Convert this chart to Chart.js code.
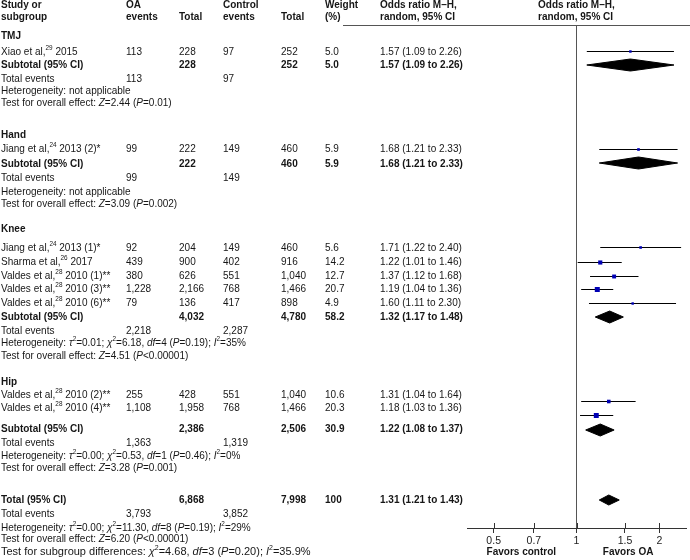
<!DOCTYPE html>
<html>
<head>
<meta charset="utf-8">
<script src="https://cdn.jsdelivr.net/npm/chart.js@4/dist/chart.umd.min.js"></script>
<style>
  html, body { margin: 0; padding: 0; background: #fff; }
  #wrap { width: 690px; height: 560px; }
</style>
</head>
<body>
<div id="wrap"><canvas id="forest" width="690" height="560"></canvas></div>
<script>
// --- data ---
const groupNames = ['TMJ', 'Hand', 'Knee', 'Hip'];
// {..} = superscript, [..] = italic
const studyLabels = [
  'Xiao et al,{29} 2015',
  'Jiang et al,{24} 2013 (2)*',
  'Jiang et al,{24} 2013 (1)*',
  'Sharma et al,{26} 2017',
  'Valdes et al,{28} 2010 (1)**',
  'Valdes et al,{28} 2010 (3)**',
  'Valdes et al,{28} 2010 (6)**',
  'Valdes et al,{28} 2010 (2)**',
  'Valdes et al,{28} 2010 (4)**'
];
const studyGroup = [0, 1, 2, 2, 2, 2, 2, 3, 3];
const oaEvents = [113, 99, 92, 439, 380, 1228, 79, 255, 1108];
const oaTotal = [228, 222, 204, 900, 626, 2166, 136, 428, 1958];
const ctrlEvents = [97, 149, 149, 402, 551, 768, 417, 551, 768];
const ctrlTotal = [252, 460, 460, 916, 1040, 1466, 898, 1040, 1466];
const studyWeight = [5.0, 5.9, 5.6, 14.2, 12.7, 20.7, 4.9, 10.6, 20.3];
const studyOR = [1.57, 1.68, 1.71, 1.22, 1.37, 1.19, 1.60, 1.31, 1.18];
const studyLow = [1.09, 1.21, 1.22, 1.01, 1.12, 1.04, 1.11, 1.04, 1.03];
const studyHigh = [2.26, 2.33, 2.40, 1.46, 1.68, 1.36, 2.30, 1.64, 1.36];

const subOaTotal = [228, 222, 4032, 2386];
const subCtrlTotal = [252, 460, 4780, 2506];
const subWeight = [5.0, 5.9, 58.2, 30.9];
const subOR = [1.57, 1.68, 1.32, 1.22];
const subLow = [1.09, 1.21, 1.17, 1.08];
const subHigh = [2.26, 2.33, 1.48, 1.37];
const subOaEvents = [113, 99, 2218, 1363];
const subCtrlEvents = [97, 149, 2287, 1319];
const subHet = [
  'Heterogeneity: not applicable',
  'Heterogeneity: not applicable',
  'Heterogeneity: [τ]{2}=0.01; [χ]{2}=6.18, [df]=4 ([P]=0.19); [I]{2}=35%',
  'Heterogeneity: [τ]{2}=0.00; [χ]{2}=0.53, [df]=1 ([P]=0.46); [I]{2}=0%'
];
const subTest = [
  'Test for overall effect: [Z]=2.44 ([P]=0.01)',
  'Test for overall effect: [Z]=3.09 ([P]=0.002)',
  'Test for overall effect: [Z]=4.51 ([P]<0.00001)',
  'Test for overall effect: [Z]=3.28 ([P]=0.001)'
];

const totalOaTotal = 6868, totalCtrlTotal = 7998, totalWeight = '100';
const totalOR = 1.31, totalLow = 1.21, totalHigh = 1.43;
const totalOaEvents = 3793, totalCtrlEvents = 3852;
const totalHet = 'Heterogeneity: [τ]{2}=0.00; [χ]{2}=11.30, [df]=8 ([P]=0.19); [I]{2}=29%';
const totalTest = 'Test for overall effect: [Z]=6.20 ([P]<0.00001)';
const subgroupDiff = 'Test for subgroup differences: [χ]{2}=4.68, [df]=3 ([P]=0.20); [I]{2}=35.9%';

const tickValues = [0.5, 0.7, 1, 1.5, 2];

// --- layout (row positions on the vertical row scale) ---
const groupY = [36, 135, 229, 382];
const studyY = [52, 149, 248, 262, 276, 289, 303, 395, 408];
const studyMarkY = [51.5, 149.5, 247.5, 262.5, 276.5, 289.5, 303.5, 401.5, 415.5];
const subY = [65, 164, 317, 429];
const subMarkY = [65, 163, 317, 430];
const subEventsY = [79, 178, 331, 443];
const hetY = [91, 192, 343, 456];
const testY = [103, 204, 356, 468];
const totalY = 500, totalEventsY = 514, totalHetY = 528, totalTestY = 539, subDiffY = 552;
const colX = { study: 1, oaEv: 126, oaTot: 179, ctEv: 223, ctTot: 281, wt: 325, or: 380, plotHead: 538 };

const FONT = '"Liberation Sans", Arial, sans-serif';
const TEXT = '#161616';
const SX = 0.91; // the figure's lettering is a little narrow
const fmtN = v => v.toLocaleString('en-US');
const fmtOR = (o, l, h) => o.toFixed(2) + ' (' + l.toFixed(2) + ' to ' + h.toFixed(2) + ')';

function richText(ctx, str, x, y, bold, sx) {
  sx = sx || SX;
  let cx = x;
  str.split(/(\{[^}]*\}|\[[^\]]*\])/).forEach(part => {
    if (!part) return;
    let t = part, sup = false, ital = false;
    if (part[0] === '{') { sup = true; t = part.slice(1, -1); }
    else if (part[0] === '[') { ital = true; t = part.slice(1, -1); }
    ctx.font = (ital ? 'italic ' : '') + (bold ? 'bold ' : '') + (sup ? '7px ' : '11px ') + FONT;
    ctx.save();
    ctx.translate(cx, sup ? y - 4 : y);
    ctx.scale(sx, 1);
    ctx.fillText(t, 0, 0);
    ctx.restore();
    cx += ctx.measureText(t).width * sx;
  });
}

function diamond(o, l, h, y, hh) {
  return [{ x: l, y: y }, { x: o, y: y - hh }, { x: h, y: y }, { x: o, y: y + hh }, { x: l, y: y }];
}

const datasets = [];
datasets.push({
  data: studyOR.map((v, i) => ({ x: v, y: studyMarkY[i] })),
  pointStyle: 'rect',
  pointRadius: studyWeight.map(w => 1.1 * Math.sqrt(w) / Math.SQRT2),
  backgroundColor: '#0000b4',
  borderWidth: 0
});
studyOR.forEach((v, i) => {
  datasets.push({
    data: [{ x: studyLow[i], y: studyMarkY[i] }, { x: studyHigh[i], y: studyMarkY[i] }],
    showLine: true, borderColor: '#000', borderWidth: 1, pointRadius: 0
  });
});
subOR.forEach((v, i) => {
  datasets.push({
    data: diamond(v, subLow[i], subHigh[i], subMarkY[i], 6),
    showLine: true, fill: 'shape', borderColor: '#000', backgroundColor: '#000',
    borderWidth: 1, pointRadius: 0, tension: 0
  });
});
datasets.push({
  data: diamond(totalOR, totalLow, totalHigh, totalY, 5),
  showLine: true, fill: 'shape', borderColor: '#000', backgroundColor: '#000',
  borderWidth: 1, pointRadius: 0, tension: 0
});

const tablePlugin = {
  id: 'table',
  afterDraw(chart) {
    const ctx = chart.ctx;
    const ys = chart.scales.y, xs = chart.scales.x;
    const Y = v => ys.getPixelForValue(v);
    ctx.save();
    ctx.fillStyle = TEXT;
    ctx.textBaseline = 'middle';
    ctx.textAlign = 'left';

    // header
    const head = (t, x, y) => richText(ctx, t, x, y, true);
    head('Study or', colX.study, 5); head('subgroup', colX.study, 17);
    head('OA', colX.oaEv, 5); head('events', colX.oaEv, 17);
    head('Total', colX.oaTot, 17);
    head('Control', colX.ctEv, 5); head('events', colX.ctEv, 17);
    head('Total', colX.ctTot, 17);
    head('Weight', colX.wt, 5); head('(%)', colX.wt, 17);
    head('Odds ratio M–H,', colX.or, 5); head('random, 95% CI', colX.or, 17);
    head('Odds ratio M–H,', colX.plotHead, 5); head('random, 95% CI', colX.plotHead, 17);

    ctx.strokeStyle = '#555';
    ctx.lineWidth = 1;
    ctx.beginPath();
    ctx.moveTo(343, 25.5); ctx.lineTo(690, 25.5);
    ctx.stroke();

    groupNames.forEach((g, gi) => {
      richText(ctx, g, colX.study, Y(groupY[gi]), true);
      studyLabels.forEach((s, i) => {
        if (studyGroup[i] !== gi) return;
        const y = Y(studyY[i]);
        richText(ctx, s, colX.study, y, false);
        richText(ctx, fmtN(oaEvents[i]), colX.oaEv, y, false);
        richText(ctx, fmtN(oaTotal[i]), colX.oaTot, y, false);
        richText(ctx, fmtN(ctrlEvents[i]), colX.ctEv, y, false);
        richText(ctx, fmtN(ctrlTotal[i]), colX.ctTot, y, false);
        richText(ctx, studyWeight[i].toFixed(1), colX.wt, y, false);
        richText(ctx, fmtOR(studyOR[i], studyLow[i], studyHigh[i]), colX.or, y, false);
      });
      let y = Y(subY[gi]);
      richText(ctx, 'Subtotal (95% CI)', colX.study, y, true);
      richText(ctx, fmtN(subOaTotal[gi]), colX.oaTot, y, true);
      richText(ctx, fmtN(subCtrlTotal[gi]), colX.ctTot, y, true);
      richText(ctx, subWeight[gi].toFixed(1), colX.wt, y, true);
      richText(ctx, fmtOR(subOR[gi], subLow[gi], subHigh[gi]), colX.or, y, true);
      y = Y(subEventsY[gi]);
      richText(ctx, 'Total events', colX.study, y, false);
      richText(ctx, fmtN(subOaEvents[gi]), colX.oaEv, y, false);
      richText(ctx, fmtN(subCtrlEvents[gi]), colX.ctEv, y, false);
      richText(ctx, subHet[gi], colX.study, Y(hetY[gi]), false);
      richText(ctx, subTest[gi], colX.study, Y(testY[gi]), false);
    });

    let y = Y(totalY);
    richText(ctx, 'Total (95% CI)', colX.study, y, true);
    richText(ctx, fmtN(totalOaTotal), colX.oaTot, y, true);
    richText(ctx, fmtN(totalCtrlTotal), colX.ctTot, y, true);
    richText(ctx, totalWeight, colX.wt, y, true);
    richText(ctx, fmtOR(totalOR, totalLow, totalHigh), colX.or, y, true);
    y = Y(totalEventsY);
    richText(ctx, 'Total events', colX.study, y, false);
    richText(ctx, fmtN(totalOaEvents), colX.oaEv, y, false);
    richText(ctx, fmtN(totalCtrlEvents), colX.ctEv, y, false);
    richText(ctx, totalHet, colX.study, Y(totalHetY), false);
    richText(ctx, totalTest, colX.study, Y(totalTestY), false);
    // this last line runs a little wider in the figure
    richText(ctx, subgroupDiff, colX.study, Y(subDiffY), false, 1);

    // upper half of the axis tick marks
    const ab = chart.chartArea.bottom;
    ctx.strokeStyle = '#333';
    ctx.beginPath();
    tickValues.forEach(v => {
      const px = Math.round(xs.getPixelForValue(v)) + 0.5;
      ctx.moveTo(px, ab - 5); ctx.lineTo(px, ab);
    });
    ctx.stroke();

    // favours labels under the axis, centred
    ctx.font = 'bold 11px ' + FONT;
    [['Favors control', 0.63], ['Favors OA', 1.54]].forEach(([t, v]) => {
      const w = ctx.measureText(t).width * SX;
      richText(ctx, t, xs.getPixelForValue(v) - w / 2, 552, true);
    });
    ctx.restore();
  }
};

new Chart(document.getElementById('forest'), {
  type: 'scatter',
  data: { datasets: datasets },
  options: {
    responsive: false,
    animation: false,
    devicePixelRatio: 1,
    layout: { padding: { left: 467, top: 26, right: 0, bottom: 0 } },
    plugins: { legend: { display: false }, tooltip: { enabled: false } },
    scales: {
      x: {
        type: 'logarithmic',
        min: 0.4,
        max: 2.5,
        afterBuildTicks: scale => { scale.ticks = tickValues.map(v => ({ value: v })); },
        afterFit: scale => { scale.height = 32; },
        border: { display: true, color: '#333', width: 1 },
        grid: {
          drawOnChartArea: true,
          drawTicks: true,
          tickLength: 5,
          tickColor: '#333',
          color: c => (c.tick && c.tick.value === 1) ? '#555' : 'rgba(0,0,0,0)'
        },
        ticks: {
          autoSkip: false,
          maxRotation: 0,
          padding: 2,
          color: '#222',
          font: { family: FONT, size: 10.5 },
          callback: v => String(v)
        }
      },
      y: {
        type: 'linear',
        display: false,
        reverse: true,
        min: 26,
        max: 528
      }
    }
  },
  plugins: [tablePlugin]
});
</script>
</body>
</html>
